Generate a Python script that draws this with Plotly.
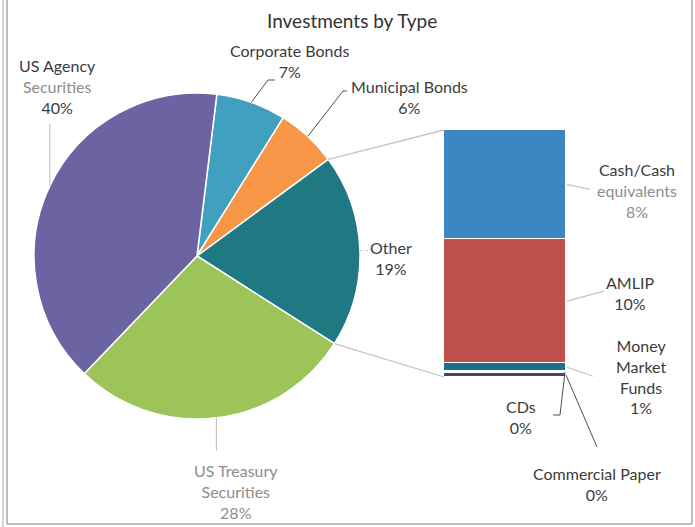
import math
import plotly.graph_objects as go

W, H = 695, 527

# ---------------- data ----------------
pie_labels = ["Corporate Bonds", "Municipal Bonds", "Other", "US Treasury Securities", "US Agency Securities"]
other_labels = ["Commercial Paper", "CDs", "Money Market Funds", "AMLIP", "Cash/Cash equivalents"]
other_values = [0.3, 0.15, 0.6, 9.6, 8.4]
main_values = [6.9, 6.0, sum(other_values), 28.0, 39.6]

pie_colors = ["#41a0c0", "#f79646", "#1f7882", "#9dc458", "#6c64a2"]
bar_colors = ["#4a4662", "#f6f7f9", "#1f6e8e", "#c0504d", "#3b86c3"]

TXT = "#3c3c3c"
GRY = "#8e8e8e"
LINE_G = "#c4c4c4"
LINE_D = "#505050"

def P(x, y):
    return x / W, 1 - y / H

# ---------------- geometry (pixels) ----------------
pie_left, pie_top, pie_size = 34, 93, 326
cx, cy, r = pie_left + pie_size / 2, pie_top + pie_size / 2, pie_size / 2
rotation = 7
bar_x0, bar_x1, bar_y0, bar_y1 = 444, 566, 130, 377

total = sum(main_values)
bounds = [rotation]
for v in main_values:
    bounds.append(bounds[-1] + v / total * 360)

def edge(angle_deg, rr=r):
    a = math.radians(angle_deg)
    return cx + rr * math.sin(a), cy - rr * math.cos(a)

mids = [(bounds[i] + bounds[i + 1]) / 2 for i in range(len(main_values))]

fig = go.Figure()

fig.add_trace(go.Pie(
    labels=pie_labels, values=main_values, sort=False, direction="clockwise",
    rotation=rotation, textinfo="none", hoverinfo="label+percent",
    marker=dict(colors=pie_colors, line=dict(color="white", width=1.5)),
    domain=dict(x=[pie_left / W, (pie_left + pie_size) / W],
                y=[1 - (pie_top + pie_size) / H, 1 - pie_top / H]),
    showlegend=False,
))

for lab, val, col in zip(other_labels, other_values, bar_colors):
    fig.add_trace(go.Bar(
        x=["Other"], y=[val], name=lab, marker=dict(color=col, line=dict(color="white", width=1.5)),
        xaxis="x", yaxis="y", showlegend=False, hoverinfo="name+y",
    ))

shapes = []

def seg(pts, color, width=1.0, dash="solid"):
    for (x0, y0), (x1, y1) in zip(pts[:-1], pts[1:]):
        a0, b0 = P(x0, y0)
        a1, b1 = P(x1, y1)
        shapes.append(dict(type="line", xref="paper", yref="paper", x0=a0, y0=b0, x1=a1, y1=b1,
                           line=dict(color=color, width=width, dash=dash)))

# connectors pie -> bar
seg([edge(bounds[2]), (bar_x0, bar_y0)], LINE_G, 1.3)
seg([edge(bounds[3]), (bar_x0, bar_y1)], LINE_G, 1.3)

# pie leader lines
ag = edge(mids[4]); seg([ag, (ag[0], 124)], LINE_G, 1.2)
co = edge(mids[0]); seg([co, (268, 80), (275, 80)], LINE_D, 1.0)
mu = edge(mids[1]); seg([mu, (343, 91), (347, 91)], LINE_D, 1.0)
ot = edge(mids[2]); seg([ot, (ot[0] + 8, ot[1])], LINE_G, 1.0, "dot")
tr = edge(mids[3]); seg([tr, (tr[0], 451)], LINE_G, 1.2)

# bar leader lines
bar_total = sum(other_values)
def bar_y(cum):
    return bar_y1 - cum / bar_total * (bar_y1 - bar_y0)
cum = [0]
for v in other_values:
    cum.append(cum[-1] + v)
bmid = [bar_y((cum[i] + cum[i + 1]) / 2) for i in range(len(other_values))]
seg([(bar_x1 + 1, bmid[4]), (590, bmid[4] + 5)], LINE_G, 1.2)
seg([(bar_x1 + 1, bmid[3]), (604, bmid[3] - 10)], LINE_G, 1.2)
seg([(bar_x1 + 1, bmid[2]), (593, bmid[2] + 9)], LINE_G, 1.2)
seg([(bar_x1 - 1, bmid[1]), (560, 415), (553, 415)], LINE_D, 1.0)
seg([(bar_x1, bmid[0]), (597, 447)], LINE_D, 1.0)

# frame
seg([(7, 0), (7, 524), (692, 524), (692, 0)], "#a8a8a8", 1.5)
seg([(3, 0), (3, 527)], "#b8b8b8", 1.2)

def pct(v):
    return f"{round(v / total * 100)}%"

def sp(t, c):
    return f"<span style='color:{c}'>{t}</span>"

annots = [
    (352, 21, sp("Investments by Type", "#333333"), 19),
    (57, 87, sp("US Agency", TXT) + "<br>" + sp("Securities", GRY) + "<br>" + sp(pct(main_values[4]), TXT), 16),
    (289, 61, sp("Corporate Bonds", TXT) + "<br>" + sp(pct(main_values[0]), TXT), 16),
    (409, 97, sp("Municipal Bonds", TXT) + "<br>" + sp(pct(main_values[1]), TXT), 16),
    (391, 258, sp("Other", TXT) + "<br>" + sp(pct(main_values[2]), TXT), 16),
    (236, 491, sp("US Treasury", GRY) + "<br>" + sp("Securities", GRY) + "<br>" + sp(pct(main_values[3]), GRY), 16),
    (637, 190, sp("Cash/Cash", TXT) + "<br>" + sp("equivalents", GRY) + "<br>" + sp(pct(other_values[4]), GRY), 16),
    (630, 293, sp("AMLIP", TXT) + "<br>" + sp(pct(other_values[3]), TXT), 16),
    (641, 376, sp("Money", TXT) + "<br>" + sp("Market", TXT) + "<br>" + sp("Funds", TXT) + "<br>" + sp(pct(other_values[2]), TXT), 16),
    (521, 417, sp("CDs", TXT) + "<br>" + sp(pct(other_values[1]), TXT), 16),
    (597, 484, sp("Commercial Paper", TXT) + "<br>" + sp(pct(other_values[0]), TXT), 16),
]
annotations = []
for x, y, t, s in annots:
    ax, ay = P(x, y)
    annotations.append(dict(x=ax, y=ay, xref="paper", yref="paper", text=t, showarrow=False,
                            xanchor="center", yanchor="middle", align="center",
                            font=dict(family="Lato", size=s, color=TXT)))

fig.update_layout(
    width=W, height=H, margin=dict(l=0, r=0, t=0, b=0),
    paper_bgcolor="white", plot_bgcolor="rgba(0,0,0,0)",
    barmode="stack", bargap=0, showlegend=False,
    font=dict(family="Lato", color=TXT),
    xaxis=dict(domain=[bar_x0 / W, bar_x1 / W], range=[-0.5, 0.5], visible=False, fixedrange=True),
    yaxis=dict(domain=[1 - bar_y1 / H, 1 - bar_y0 / H], range=[0, bar_total], visible=False, fixedrange=True),
    shapes=shapes, annotations=annotations,
)

fig.write_html("out.html", config={"displayModeBar": False},
               post_script="document.body.style.margin='0';document.body.style.overflow='hidden';")
